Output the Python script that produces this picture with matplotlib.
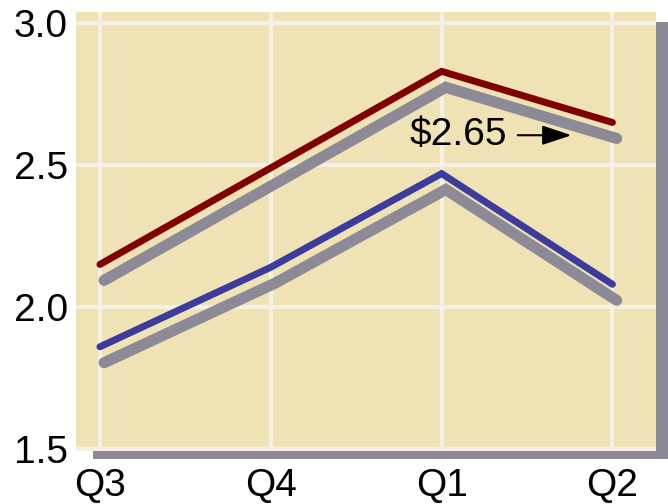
import numpy as np
import matplotlib
matplotlib.use("Agg")
import matplotlib.pyplot as plt
import matplotlib.patheffects as pe
from matplotlib.patches import Rectangle

quarters = ["Q3", "Q4", "Q1", "Q2"]
red_values = [2.15, 2.49, 2.83, 2.65]
blue_values = [1.86, 2.14, 2.47, 2.08]
y_ticks = [1.5, 2.0, 2.5, 3.0]
label_text = "\\$2.65"

plt.rcParams['font.family'] = ['Liberation Sans', 'DejaVu Sans']

fig = plt.figure(figsize=(6.68, 5.04), dpi=100)
W, H = 668, 504
left, right, top, bottom = 76, 656, 12, 451
ax = fig.add_axes([left / W, 1 - bottom / H, (right - left) / W, (bottom - top) / H])
ax.set_zorder(1)

# gray drop shadow behind the plot panel
fig.patches.append(Rectangle(((left + 17) / W, 1 - (bottom + 8) / H),
                             (right - left) / W, (bottom - top - 2) / H,
                             transform=fig.transFigure, facecolor='#8c8a96',
                             edgecolor='none', zorder=0))

ax.set_facecolor('#efe2b4')
for s in ax.spines.values():
    s.set_visible(False)

x = np.arange(len(quarters))
shadow = [pe.SimpleLineShadow(offset=(3, -11.5), shadow_color='#8d8a97',
                              alpha=1, linewidth=8), pe.Normal()]
ax.plot(x, red_values, color='#800000', linewidth=5, solid_capstyle='round',
        solid_joinstyle='miter', path_effects=shadow, zorder=3)
ax.plot(x, blue_values, color='#3c3c9c', linewidth=5, solid_capstyle='round',
        solid_joinstyle='miter', path_effects=shadow, zorder=3)

ax.annotate(label_text, xy=(2.76, 2.605), xytext=(1.81, 2.605),
            ha='left', va='center', fontsize=28,
            arrowprops=dict(arrowstyle='-|>,head_width=0.3,head_length=0.9',
                            color='black', lw=1.5, mutation_scale=20,
                            shrinkA=6, shrinkB=0),
            zorder=5)

ax.set_xticks(x)
ax.set_xticklabels(quarters)
ax.set_yticks(y_ticks)
ax.set_yticklabels([f"{v:.1f}" for v in y_ticks])
ax.set_xlim(-0.14, 3.255)
ax.set_ylim(1.493, 3.039)
ax.tick_params(length=0, labelsize=28)
ax.tick_params(axis='x', pad=12)
ax.tick_params(axis='y', pad=6)
ax.set_axisbelow(True)
ax.grid(True, color='#f4f0e4', linewidth=3)

fig.savefig("out.png", dpi=100)
